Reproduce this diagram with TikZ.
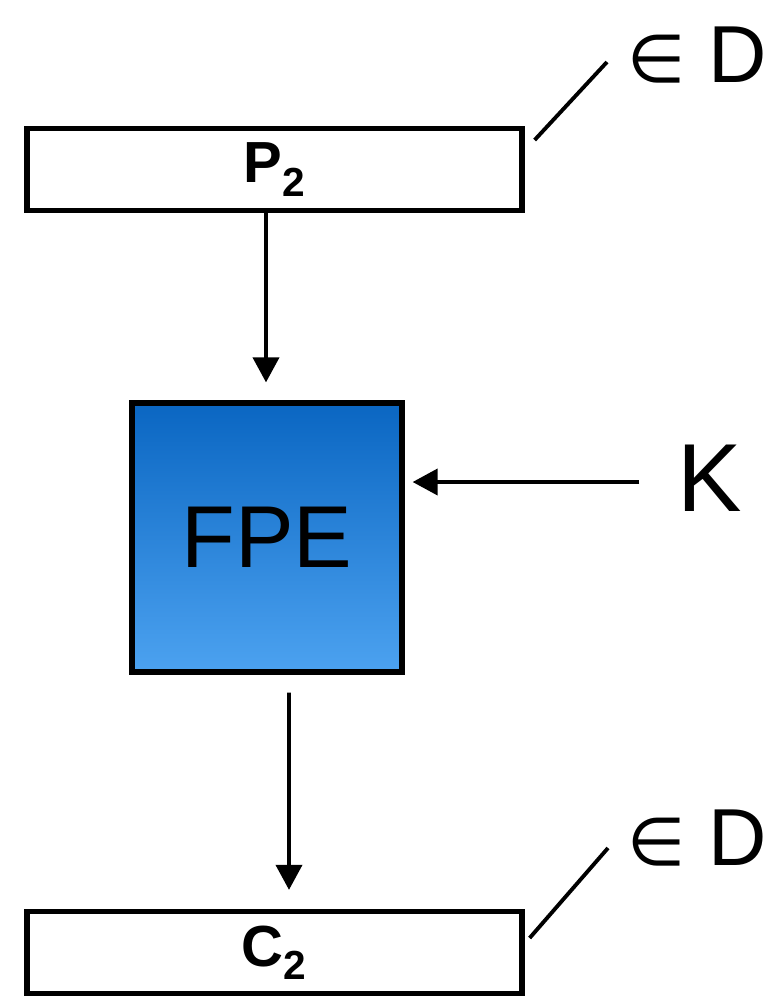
\documentclass[tikz,border=0pt]{standalone}
\usepackage{fontspec}
\setmainfont{Liberation Sans}
\newfontfamily\symfont{DejaVu Sans}
\usepackage{tikz}
\usetikzlibrary{arrows.meta,positioning,calc}
\usepackage{xcolor}
\definecolor{fpetop}{RGB}{10,102,194}
\definecolor{fpebottom}{RGB}{76,162,240}
\newcommand{\elemof}{{\symfont\fontsize{38}{40}\selectfont ∈}}
\tikzset{
  databox/.style={rectangle, draw=black, line width=3pt, fill=white,
                  minimum width=9.9cm, minimum height=1.64cm, align=center,
                  font=\fontsize{33}{38}\selectfont\bfseries, inner sep=0pt},
  cipherbox/.style={rectangle, draw=black, line width=3pt, top color=fpetop, bottom color=fpebottom,
                  minimum width=5.4cm, minimum height=5.38cm, font=\fontsize{50}{56}\selectfont, inner sep=0pt},
  biglabel/.style={font=\fontsize{55}{60}\selectfont, inner sep=0pt},
  domlabel/.style={font=\fontsize{46}{50}\selectfont, inner sep=0pt},
  arrow/.style={-{Triangle[length=5mm,width=5.2mm]}, line width=2.2pt},
  tick/.style={line width=2.2pt},
}

\begin{document}
\begin{tikzpicture}
\useasboundingbox (0,0) rectangle (15.6,-19.94);
\node[databox] (p2) at (5.49,-3.39) {P\textsubscript{2}};
\node[cipherbox] (fpe) at (5.34,-10.75) {FPE};
\node[databox] (c2) at (5.49,-19.05) {C\textsubscript{2}};
\node[biglabel] (key) at (14.2,-9.56) {K};
\node[domlabel] (dtop) at (13.94,-1.1) {\elemof\ D};
\node[domlabel] (dbot) at (13.94,-16.76) {\elemof\ D};
% free ends of the domain ticks and the key input
\coordinate (ttop) at (12.14,-1.24);
\coordinate (tbot) at (12.16,-16.96);
\coordinate (kin) at ([shift={(0.16cm,1.11cm)}]fpe.east);
\draw[arrow] ([xshift=-0.17cm]p2.south) -- ([shift={(-0.02cm,0.36cm)}]fpe.north);
\draw[arrow] ([shift={(0.44cm,-0.36cm)}]fpe.south) -- ([shift={(0.29cm,0.38cm)}]c2.north);
\draw[arrow] ($(key.west |- kin)+(-0.76,0)$) -- (kin);
\draw[tick] ([shift={(0.2cm,0.59cm)}]p2.east) -- (ttop);
\draw[tick] ([shift={(0.1cm,0.29cm)}]c2.east) -- (tbot);
\end{tikzpicture}
\end{document}
